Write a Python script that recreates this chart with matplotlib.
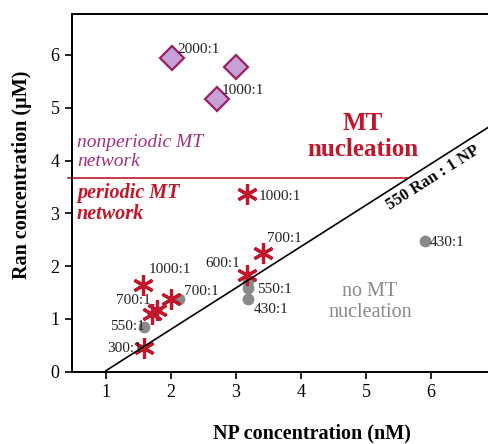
import numpy as np
from matplotlib import pyplot as plt

plt.rcParams['font.family'] = ['Liberation Serif', 'DejaVu Serif']
plt.rcParams['mathtext.fontset'] = 'stix'

red = '#c4162a'
purple_txt = '#a3317f'
grey = '#8a8a8a'

# Nonperiodic MT network (diamonds)
dia_x = [2.01, 3.00, 2.70]
dia_y = [5.95, 5.78, 5.16]
dia_lab = ['2000:1', None, '1000:1']

# Periodic MT network (asterisks)
ast_x = [3.17, 1.57, 1.71, 1.79, 2.00, 1.59, 3.17, 3.41]
ast_y = [3.37, 1.65, 1.10, 1.17, 1.38, 0.44, 1.83, 2.24]
ast_lab = ['1000:1', '1000:1', None, '700:1', None, '300:1', '600:1', '700:1']

# No MT nucleation (grey circles)
dot_x = [1.59, 2.12, 3.19, 3.19, 3.19, 5.90]
dot_y = [0.85, 1.38, 1.72, 1.58, 1.38, 2.48]
dot_lab = ['550:1', '700:1', None, '550:1', '430:1', '430:1']

# 550 Ran : 1 NP threshold and network boundary
thr_x = [1.0, 7.8]
thr_y = [0.02, 5.35]
bound_x = [0.41, 5.63]
bound_y = [3.66, 3.66]

# label offsets in points (dx, dy, ha)
dia_off = [(4, 6, 'left'), None, (4, 6, 'left')]
ast_off = [(8, -2, 'left'), (4, 11, 'left'), None, (-5, 7, 'right'),
           None, (-2, 0, 'right'), (-5, 8, 'right'), (3, 11, 'left')]
dot_off = [(0, 0, 'right'), (4, 5, 'left'), None, (6, -1, 'left'),
           (4, -8, 'left'), (4, -1, 'left')]

fig = plt.figure(figsize=(4.89, 4.44), dpi=100)
ax = fig.add_axes([72 / 489, 72.3 / 444, 480 / 489, 357.7 / 444])

ax.plot(dot_x, dot_y, 'o', ms=8.5, color=grey, mec='none', zorder=2)
ax.plot(ast_x, ast_y, ls='none', marker=(6, 2, 0), ms=15, mew=2.3, color=red, zorder=3)
ax.plot(dia_x, dia_y, 'D', ms=12, mfc='#c7a0d6', mec='#9c1f62', mew=1.6, zorder=3)

ax.plot(thr_x, thr_y, color='k', lw=1.2, zorder=4)
ax.plot(bound_x, bound_y, color=red, lw=1.2, clip_on=False, zorder=1)

for xs, ys, labs, offs in [(dia_x, dia_y, dia_lab, dia_off),
                           (ast_x, ast_y, ast_lab, ast_off),
                           (dot_x, dot_y, dot_lab, dot_off)]:
    for x, y, lab, off in zip(xs, ys, labs, offs):
        if lab is None:
            continue
        ax.annotate(lab, (x, y), xytext=off[:2], textcoords='offset points',
                    ha=off[2], va='center', fontsize=11, color='#222222', zorder=5)

ax.text(0.554, 4.16, 'nonperiodic MT\nnetwork', style='italic', fontsize=14,
        color=purple_txt, ha='left', va='center', linespacing=1.1)
ax.text(0.554, 3.19, 'periodic MT\nnetwork', style='italic', weight='bold', fontsize=14.5,
        color=red, ha='left', va='center', linespacing=1.05)
ax.text(4.95, 4.46, 'MT\nnucleation', weight='bold', fontsize=18, color=red,
        ha='center', va='center', linespacing=1.15)
ax.text(5.06, 1.32, 'no MT\nnucleation', fontsize=14.5, color=grey,
        ha='center', va='center', linespacing=1.1)
ax.text(6.03, 3.67, '550 Ran : 1 NP', weight='bold', fontsize=12, color='k',
        ha='center', va='center', rotation=32.5, rotation_mode='anchor')

ax.set_xlim(0.477, 7.86)
ax.set_ylim(0, 6.775)
ax.set_xticks([1, 2, 3, 4, 5, 6])
ax.set_yticks([0, 1, 2, 3, 4, 5, 6])
ax.tick_params(direction='out', length=5, width=1.2, labelsize=13, pad=4)
for s in ax.spines.values():
    s.set_linewidth(1.4)

ax.set_xlabel('NP concentration (nM)', weight='bold', fontsize=14.5)
ax.set_ylabel('Ran concentration (µM)', weight='bold', fontsize=14.5)
ax.xaxis.set_label_coords(0.5, -0.145)
ax.yaxis.set_label_coords(-0.083, 0.55)

plt.savefig('out.png', dpi=100)
